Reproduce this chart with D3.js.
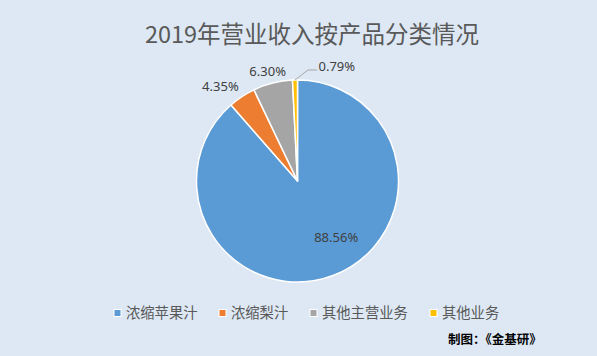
<!DOCTYPE html>
<html><head><meta charset="utf-8">
<script src="https://cdn.jsdelivr.net/npm/d3@7"></script>
<style>
html,body{margin:0;padding:0;background:#dde8f4;}
svg{display:block;}
</style></head>
<body>
<svg id="chart" width="597" height="356"></svg>
<script>
const title = "2019年营业收入按产品分类情况";
const categories = ["浓缩苹果汁", "浓缩梨汁", "其他主营业务", "其他业务"];
const values = [88.56, 4.35, 6.30, 0.79];
const colors = ["#5b9bd5", "#ed7d31", "#a5a5a5", "#ffc000"];
const source = "制图：《金基研》";

const W = 597, H = 356;
const svg = d3.select("#chart");
svg.append("rect").attr("width", W).attr("height", H).attr("fill", "#dde8f4");

const cjk = "'Noto Sans CJK SC', 'Noto Sans', sans-serif";
const numFont = "'Noto Sans', 'Noto Sans CJK SC', sans-serif";

svg.append("text").attr("x", 312).attr("y", 43)
  .attr("text-anchor", "middle").attr("font-family", cjk)
  .attr("font-size", 23.5).attr("fill", "#595959").text(title);

const cx = 297.5, cy = 181, r = 101;
const g = svg.append("g").attr("transform", `translate(${cx},${cy})`);
const data = categories.map((c, i) => ({cat: c, value: values[i], color: colors[i]}));
const pie = d3.pie().value(d => d.value).sort(null);
const arcs = pie(data);
const arc = d3.arc().innerRadius(0).outerRadius(r);

g.selectAll("path.slice").data(arcs).join("path")
  .attr("class", "slice").attr("d", arc)
  .attr("fill", d => d.data.color)
  .attr("stroke", "#ffffff").attr("stroke-width", 1.5).attr("stroke-linejoin", "round");

const fmt = v => d3.format(".2f")(v) + "%";
const labelSize = 13;

arcs.forEach((d, i) => {
  const mid = (d.startAngle + d.endAngle) / 2;
  const txt = fmt(d.data.value);
  if (i === 0) {
    // inside label
    const a = mid - 14 * Math.PI / 180, rr = r * 0.675;
    g.append("text").attr("x", rr * Math.sin(a)).attr("y", -rr * Math.cos(a))
      .attr("text-anchor", "middle").attr("dy", "0.35em")
      .attr("font-family", numFont).attr("font-size", labelSize).attr("fill", "#404040").text(txt);
  } else if (d.endAngle - d.startAngle < 0.1) {
    // small slice with leader line
    const sx = r * Math.sin(mid), sy = -r * Math.cos(mid);
    const ex = sx + 13, ey = sy - 10;
    const fx = ex + 9;
    g.append("polyline").attr("points", `${sx},${sy} ${ex},${ey} ${fx},${ey}`)
      .attr("fill", "none").attr("stroke", "#a6a6a6").attr("stroke-width", 1);
    g.append("text").attr("x", fx + 1.5).attr("y", ey - 4).attr("dy", "0.35em")
      .attr("text-anchor", "start")
      .attr("font-family", numFont).attr("font-size", labelSize).attr("fill", "#404040").text(txt);
  } else {
    const rr = r + 6;
    const px = rr * Math.sin(mid), py = -rr * Math.cos(mid);
    const t = g.append("text").attr("font-family", numFont).attr("font-size", labelSize)
      .attr("fill", "#404040").attr("text-anchor", "middle").attr("dy", "0.35em").text(txt);
    const w = t.node().getComputedTextLength(), h = 13;
    const s = Math.sin(mid), c = Math.cos(mid);
    const dx = (w / 2) * Math.sign(s) * Math.min(1, s * s * 3.3);
    const dyy = -(h / 2) * c;
    t.attr("x", px + dx).attr("y", py + dyy);
  }
});

// legend
const legendY = 313;
const legendX = [114, 219, 310, 430];
const leg = svg.append("g");
categories.forEach((c, i) => {
  leg.append("rect").attr("x", legendX[i]).attr("y", legendY - 3.5).attr("width", 7).attr("height", 7)
    .attr("fill", colors[i]).attr("stroke", "#ffffff").attr("stroke-width", 1);
  leg.append("text").attr("x", legendX[i] + 12).attr("y", legendY).attr("dy", "0.35em")
    .attr("font-family", cjk).attr("font-size", 14.3).attr("fill", "#595959").text(c);
});

svg.append("text").attr("x", 448).attr("y", 340).attr("dy", "0.35em")
  .attr("font-family", cjk).attr("font-size", 12.5).attr("font-weight", "bold")
  .attr("fill", "#000000").text(source);
</script>
</body></html>
